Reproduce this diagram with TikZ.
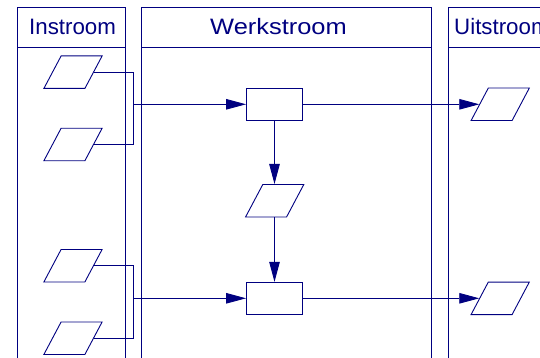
\documentclass[tikz,border=0pt]{standalone}
\usepackage{fontspec}
\setmainfont{Liberation Sans}
\usetikzlibrary{arrows.meta}
\definecolor{navy}{RGB}{0,0,128}
\begin{document}
\begin{tikzpicture}[x=1pt,y=-1pt,
  lane/.style={draw=navy,line width=0.9pt},
  lanetitle/.style={anchor=base west,inner sep=0pt,text=navy,font=\fontsize{22.3}{24}\selectfont},
  para/.style={draw=navy,line width=0.9pt,rectangle,transform shape,xslant=0.53,
    minimum width=41pt,minimum height=32.5pt,inner sep=0pt},
  box/.style={draw=navy,line width=0.9pt,rectangle,minimum width=56pt,minimum height=32pt,inner sep=0pt},
  conn/.style={draw=navy,line width=0.9pt},
  arr/.style={conn,-{Triangle[length=20pt,width=10.5pt]}}]
\useasboundingbox (0,0) rectangle (540,358);
\clip (0,0) rectangle (540,358);
% lanes
\draw[lane] (17,362) -- (17,7.7) -- (125.3,7.7) -- (125.3,362);
\draw[lane] (17,47.7) -- (125.3,47.7);
\draw[lane] (141.7,362) -- (141.7,7.7) -- (431.7,7.7) -- (431.7,362);
\draw[lane] (141.7,47.7) -- (431.7,47.7);
\draw[lane] (448,362) -- (448,7.7) -- (560,7.7) -- (560,362);
\draw[lane] (448,47.7) -- (560,47.7);
\node[lanetitle] (t1) at (29,35) {Instroom};
\node[lanetitle,transform shape,xscale=1.14] (t2) at (210,35) {Werkstroom};
\node[lanetitle] (t3) at (454,35) {Uitstroom};
% input parallelograms
\node[para] (i1) at (73,72.2) {};
\node[para] (i2) at (73,144.5) {};
\node[para] (i3) at (73,265.7) {};
\node[para] (i4) at (73,338.2) {};
% work
\node[box] (r1) at (274.5,104.3) {};
\node[para] (m1) at (274.7,200.7) {};
\node[box] (r2) at (274.5,298.3) {};
% output
\node[para] (o1) at (500.2,104.3) {};
\node[para] (o2) at (500.2,298.3) {};
% junctions
\coordinate (j1) at (133.7,104.3);
\coordinate (j2) at (133.7,298.3);
\draw[conn] (i1.east) -| (j1) |- (i2.east);
\draw[conn] (i3.east) -| (j2) |- (i4.east);
\draw[arr] (j1) -- (r1.west);
\draw[arr] (j2) -- (r2.west);
\draw[arr] (r1.south) -- (r1.south |- m1.north);
\draw[arr] (r2.north |- m1.south) -- (r2.north);
\draw[arr] (r1.east) -- (o1.west);
\draw[arr] (r2.east) -- (o2.west);
\end{tikzpicture}
\end{document}
